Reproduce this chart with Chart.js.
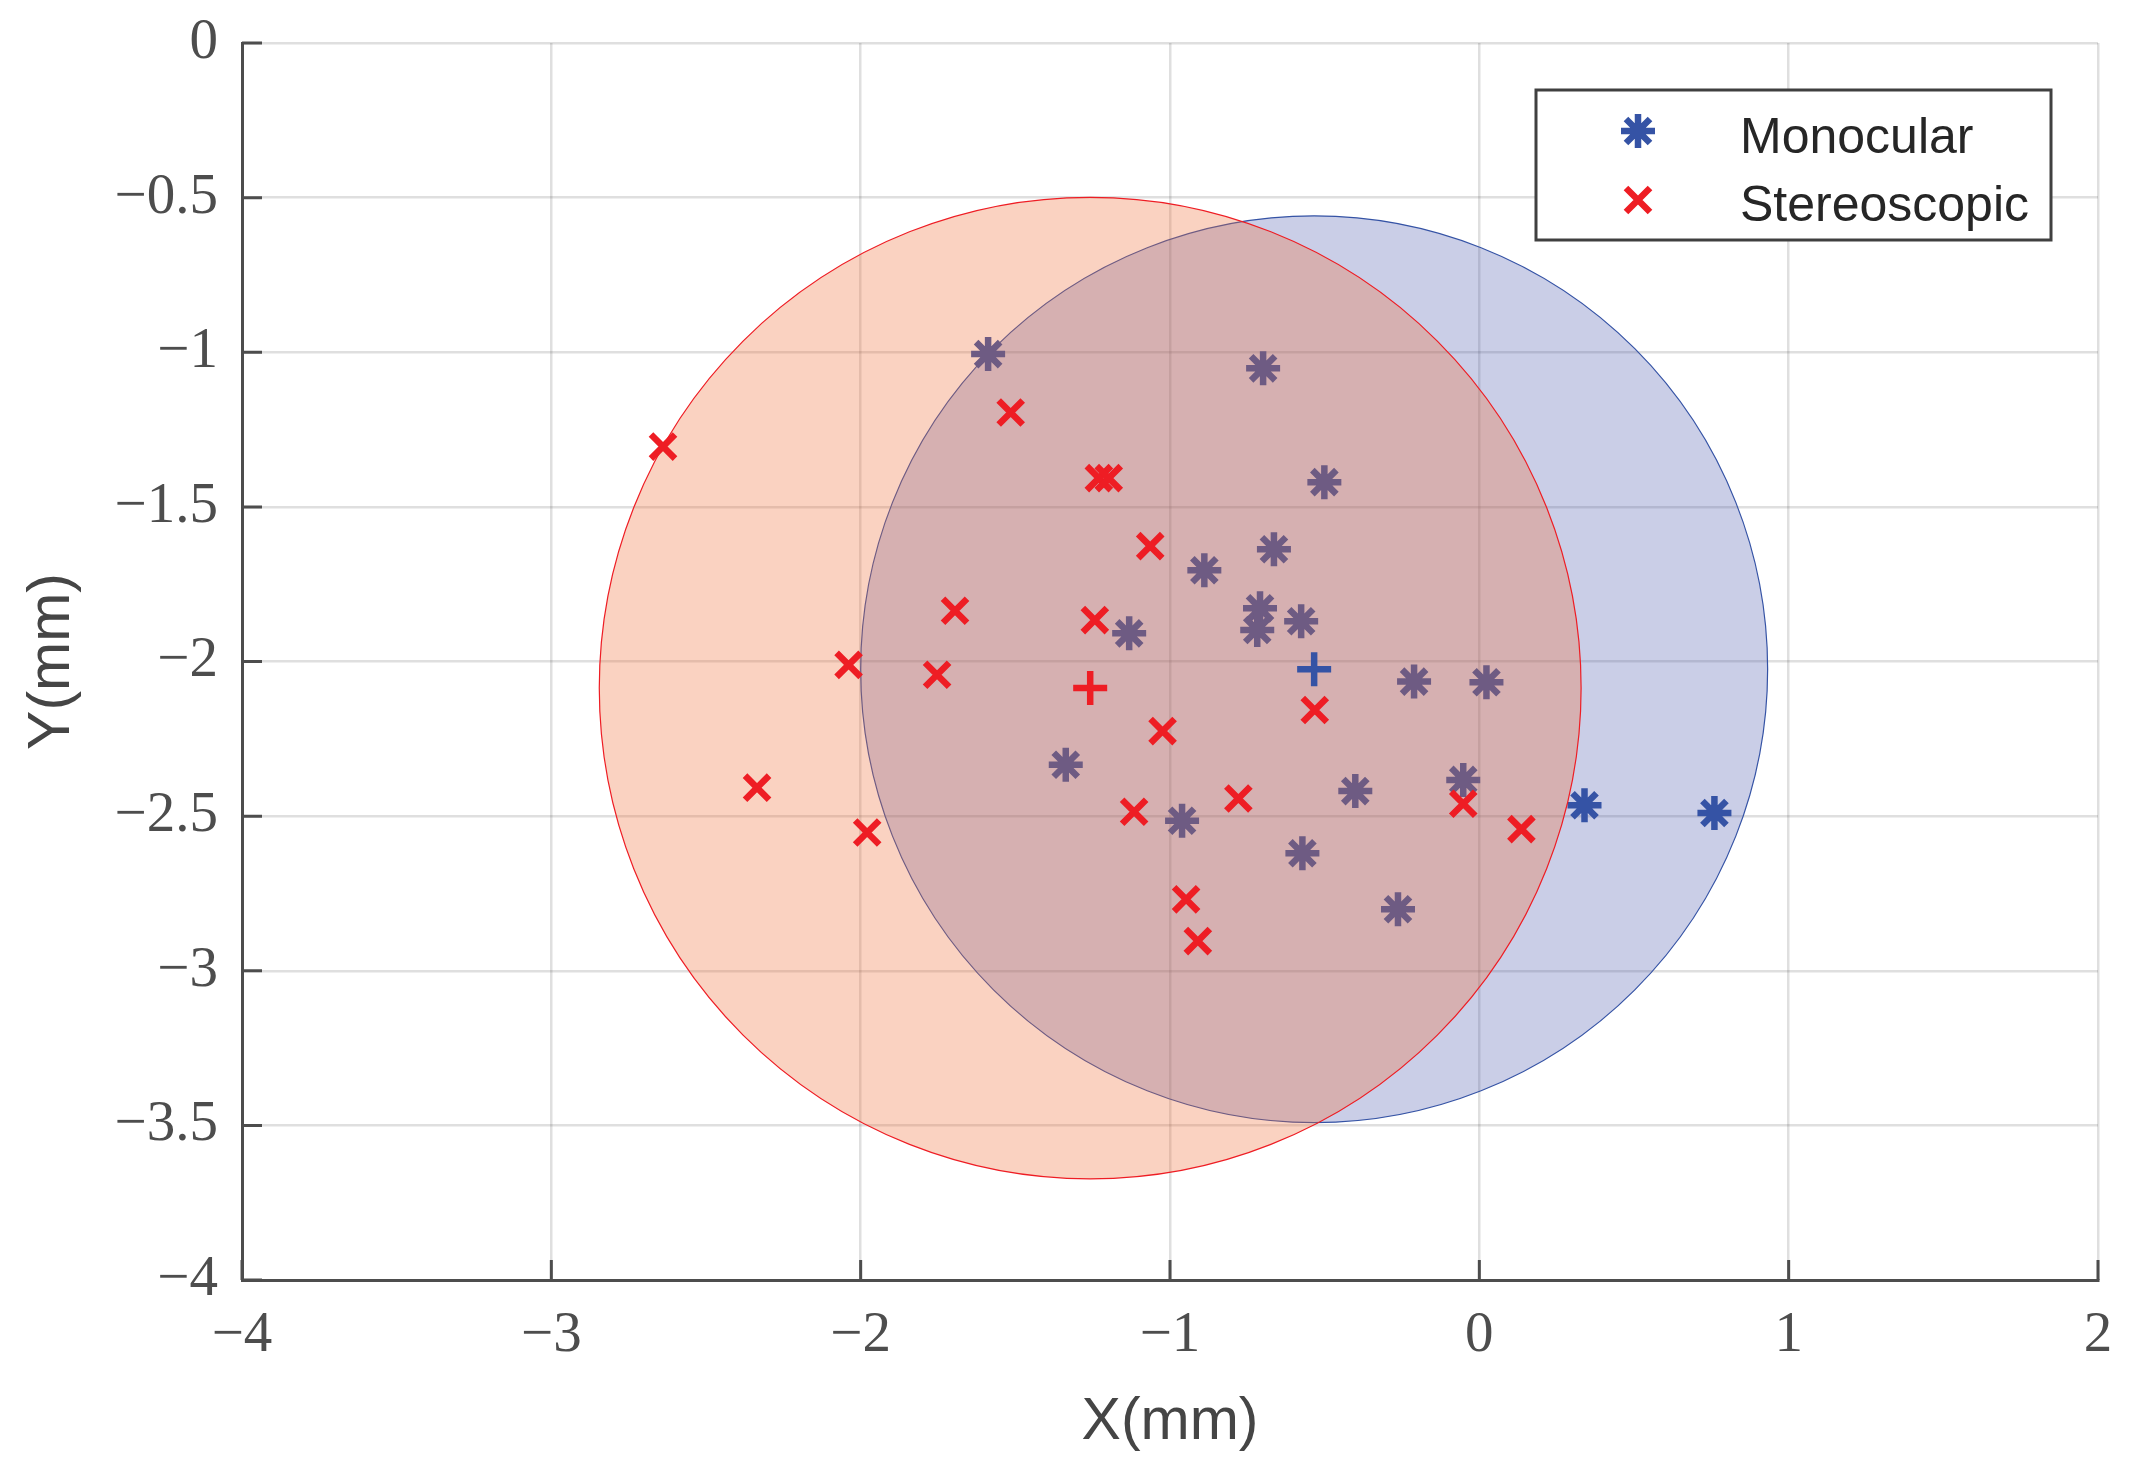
<!DOCTYPE html>
<html lang="en">
  <head>
    <meta charset="UTF-8" />
    <title>Monocular vs Stereoscopic</title>
    <style>
      body {
        margin: 0;
        background: #fff;
      }
    </style>
    <script src="https://cdn.jsdelivr.net/npm/chart.js@4"></script>
  </head>
  <body>
    <canvas id="chart" width="2142" height="1481"></canvas>

    <script>
      // monocular measurements (mm)
      const monoX = [-1.588, -0.699, -0.501, -0.889, -0.664, -0.709, -0.718, -0.576, -1.132, -1.337,
                     -0.961, -0.401, -0.572, -0.263, -0.211, 0.023, -0.052, 0.340, 0.760];
      const monoY = [-1.006, -1.052, -1.420, -1.705, -1.637, -1.828, -1.898, -1.870, -1.909, -2.334,
                     -2.515, -2.419, -2.620, -2.801, -2.065, -2.067, -2.383, -2.465, -2.490];

      // stereoscopic measurements (mm)
      const stereoX = [-2.639, -1.515, -1.230, -1.198, -1.695, -1.064, -1.243, -2.039, -1.753, -2.335,
                       -1.979, -0.532, -1.024, -1.116, -0.779, -0.948, -0.910, -0.052, 0.136];
      const stereoY = [-1.305, -1.195, -1.407, -1.407, -1.836, -1.627, -1.866, -2.011, -2.043, -2.408,
                       -2.553, -2.157, -2.225, -2.486, -2.443, -2.769, -2.904, -2.460, -2.542];

      // centres ("+") and enclosing circle radius: [monocular, stereoscopic]
      const centerX = [-0.534, -1.258];
      const centerY = [-2.025, -2.086];
      const circleR = [1.466, 1.587];

      const seriesNames = ["Monocular", "Stereoscopic"];
      const xTicks = [-4, -3, -2, -1, 0, 1, 2];
      const yTicks = [-4, -3.5, -3, -2.5, -2, -1.5, -1, -0.5, 0];

      const BLUE = "#3553a5";
      const RED = "#ee1d24";
      const AXIS = "#4d4d4d";
      const fills = ["rgba(60, 75, 165, 0.27)", "rgba(238, 110, 56, 0.31)"];
      const edges = [BLUE, RED];

      const MARK_R = 17;
      const MARK_W = 6.5;

      const toPoints = (xs, ys) => xs.map((x, i) => ({ x, y: ys[i] }));
      const minus = (v) => (v < 0 ? "\u2212" + Math.abs(v) : String(v));

      // circle for a series is painted just before its markers,
      // so the blue stars end up under the red shading
      const circlePlugin = {
        id: "circles",
        beforeDatasetDraw(chart, args) {
          const idx = seriesNames.indexOf(chart.data.datasets[args.index].label);
          if (idx < 0) return;
          const { ctx } = chart;
          const xs = chart.scales.x;
          const ys = chart.scales.y;
          const px = xs.getPixelForValue(centerX[idx]);
          const py = ys.getPixelForValue(centerY[idx]);
          const rx = Math.abs(xs.getPixelForValue(centerX[idx] + circleR[idx]) - px);
          const ry = Math.abs(ys.getPixelForValue(centerY[idx] + circleR[idx]) - py);
          ctx.save();
          ctx.beginPath();
          ctx.ellipse(px, py, rx, ry, 0, 0, Math.PI * 2);
          ctx.fillStyle = fills[idx];
          ctx.fill();
          ctx.lineWidth = 1.2;
          ctx.strokeStyle = edges[idx];
          ctx.stroke();
          ctx.restore();
        },
      };

      // inward tick marks + boxed legend
      const decorPlugin = {
        id: "decor",
        afterDraw(chart) {
          const { ctx, chartArea } = chart;
          const xs = chart.scales.x;
          const ys = chart.scales.y;
          ctx.save();
          ctx.strokeStyle = AXIS;
          ctx.lineWidth = 3;
          ctx.beginPath();
          xTicks.forEach((v) => {
            const p = xs.getPixelForValue(v);
            ctx.moveTo(p, chartArea.bottom);
            ctx.lineTo(p, chartArea.bottom - 20);
          });
          yTicks.forEach((v) => {
            const p = ys.getPixelForValue(v);
            ctx.moveTo(chartArea.left, p);
            ctx.lineTo(chartArea.left + 20, p);
          });
          ctx.stroke();

          // legend
          const bx = 1536, by = 90, bw = 515, bh = 150;
          ctx.fillStyle = "#fff";
          ctx.fillRect(bx, by, bw, bh);
          ctx.strokeStyle = "#404040";
          ctx.lineWidth = 3;
          ctx.strokeRect(bx, by, bw, bh);

          const marks = [
            { style: "star", color: BLUE, y: 131 },
            { style: "crossRot", color: RED, y: 200 },
          ];
          marks.forEach((m, i) => {
            ctx.strokeStyle = m.color;
            ctx.fillStyle = m.color;
            ctx.lineWidth = MARK_W;
            Chart.helpers.drawPoint(
              ctx,
              { pointStyle: m.style, radius: MARK_R, borderWidth: MARK_W, rotation: 0 },
              1638,
              m.y
            );
            ctx.fillStyle = "#262626";
            ctx.font = '50px "Liberation Sans", Arial, sans-serif';
            ctx.textBaseline = "alphabetic";
            ctx.textAlign = "left";
            ctx.fillText(seriesNames[i], 1740, i === 0 ? 153 : 221);
          });
          ctx.restore();
        },
      };

      const markerOpts = (color, style) => ({
        pointStyle: style,
        pointRadius: MARK_R,
        pointHoverRadius: MARK_R,
        pointBorderWidth: MARK_W,
        pointHoverBorderWidth: MARK_W,
        borderColor: color,
        backgroundColor: color,
        showLine: false,
      });

      const tickFont = { family: '"Liberation Serif", "Times New Roman", serif', size: 57 };
      const titleFont = { family: '"Liberation Sans", Arial, sans-serif', size: 59, lineHeight: 1.2 };
      const gridOpts = {
        color: "rgba(38, 38, 38, 0.15)",
        lineWidth: 2.5,
        drawTicks: false,
      };

      new Chart(document.getElementById("chart"), {
        type: "scatter",
        data: {
          datasets: [
            {
              label: "Centres",
              data: toPoints(centerX, centerY),
              ...markerOpts(BLUE, "cross"),
              borderColor: [BLUE, RED],
              backgroundColor: [BLUE, RED],
              order: 0,
            },
            {
              label: seriesNames[1],
              data: toPoints(stereoX, stereoY),
              ...markerOpts(RED, "crossRot"),
              order: 1,
            },
            {
              label: seriesNames[0],
              data: toPoints(monoX, monoY),
              ...markerOpts(BLUE, "star"),
              order: 2,
            },
          ],
        },
        options: {
          responsive: false,
          animation: false,
          events: [],
          layout: { padding: { top: 43, right: 44, left: 0, bottom: 0 } },
          plugins: {
            legend: { display: false },
            tooltip: { enabled: false },
          },
          scales: {
            x: {
              type: "linear",
              min: -4,
              max: 2,
              afterBuildTicks: (s) => (s.ticks = xTicks.map((v) => ({ value: v }))),
              afterFit: (s) => {
                s.height = 201;
                s.paddingLeft = 0;
                s.paddingRight = 0;
              },
              ticks: {
                font: tickFont,
                color: AXIS,
                padding: 22,
                autoSkip: false,
                maxRotation: 0,
                callback: minus,
              },
              grid: gridOpts,
              border: { display: true, color: AXIS, width: 3 },
              title: {
                display: true,
                text: "X(mm)",
                font: titleFont,
                color: "#454545",
                padding: { top: 0, bottom: 23 },
              },
            },
            y: {
              type: "linear",
              min: -4,
              max: 0,
              afterBuildTicks: (s) => (s.ticks = yTicks.map((v) => ({ value: v }))),
              afterFit: (s) => {
                s.width = 242;
                s.paddingTop = 0;
                s.paddingBottom = 0;
              },
              ticks: {
                font: tickFont,
                color: AXIS,
                padding: 24,
                autoSkip: false,
                callback: minus,
              },
              grid: gridOpts,
              border: { display: true, color: AXIS, width: 3 },
              title: {
                display: true,
                text: "Y(mm)",
                font: titleFont,
                color: "#454545",
                padding: { top: 17, bottom: 0 },
              },
            },
          },
        },
        plugins: [circlePlugin, decorPlugin],
      });
    </script>
  </body>
</html>
